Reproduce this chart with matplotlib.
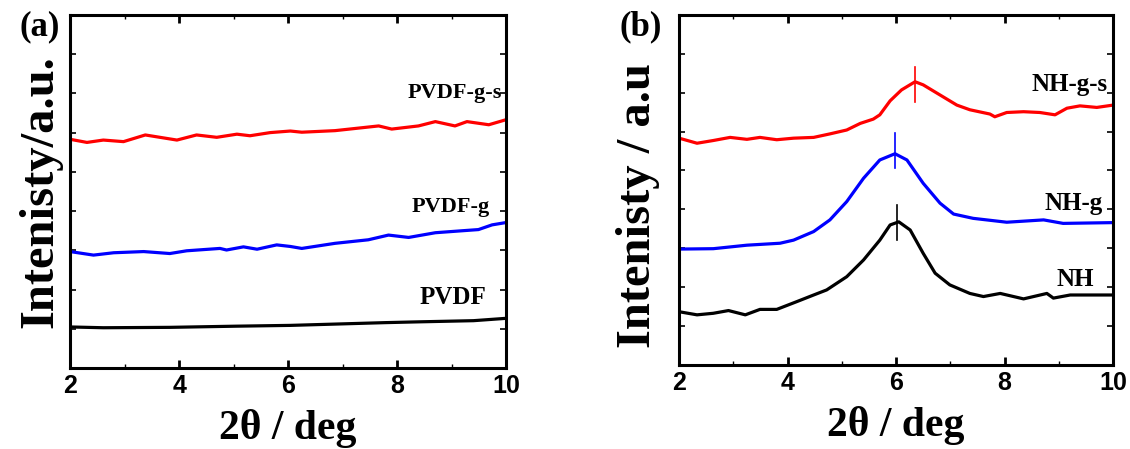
import numpy as np
import matplotlib.pyplot as plt
from matplotlib.ticker import MultipleLocator, NullFormatter

# (a) PVDF films
a_x_pvdf = [2.0, 2.61, 3.83, 5.06, 6.04, 7.78, 8.39, 9.4, 10.0]
a_y_pvdf = [1.05, 1.03, 1.04, 1.07, 1.09, 1.16, 1.18, 1.21, 1.27]
a_x_g = [2.0, 2.43, 2.80, 3.35, 3.83, 4.14, 4.75, 4.87, 5.18, 5.43, 5.79, 6.04, 6.25,
         6.86, 7.47, 7.84, 8.21, 8.70, 9.19, 9.49, 9.74, 10.0]
a_y_g = [2.97, 2.88, 2.94, 2.97, 2.92, 2.99, 3.05, 3.01, 3.09, 3.03, 3.14, 3.10, 3.05,
         3.18, 3.27, 3.39, 3.33, 3.45, 3.50, 3.53, 3.65, 3.71]
a_x_gs = [2.0, 2.31, 2.61, 2.98, 3.38, 3.96, 4.32, 4.69, 5.06, 5.30, 5.67, 6.04, 6.25,
          6.86, 7.66, 7.90, 8.39, 8.70, 9.06, 9.28, 9.68, 10.0]
a_y_gs = [5.83, 5.75, 5.81, 5.77, 5.94, 5.81, 5.94, 5.88, 5.96, 5.92, 6.00, 6.04, 6.01,
          6.05, 6.17, 6.09, 6.17, 6.28, 6.17, 6.28, 6.20, 6.33]

# (b) NH powders
b_x_nh = [2.0, 2.33, 2.63, 2.91, 3.22, 3.49, 3.80, 4.17, 4.48, 4.72, 5.09, 5.40, 5.70,
          5.89, 6.05, 6.26, 6.50, 6.72, 6.99, 7.36, 7.61, 7.92, 8.35, 8.78, 8.90, 9.21, 10.0]
b_y_nh = [1.37, 1.29, 1.33, 1.40, 1.29, 1.43, 1.43, 1.63, 1.80, 1.93, 2.27, 2.70, 3.21,
          3.60, 3.68, 3.47, 2.87, 2.36, 2.06, 1.84, 1.76, 1.84, 1.70, 1.84, 1.72, 1.80, 1.80]
b_x_g = [2.0, 2.63, 3.25, 3.86, 4.11, 4.48, 4.78, 5.09, 5.40, 5.70, 5.98, 6.20, 6.50,
         6.81, 7.06, 7.42, 8.04, 8.72, 9.08, 10.0]
b_y_g = [2.98, 2.99, 3.08, 3.13, 3.21, 3.43, 3.73, 4.20, 4.80, 5.27, 5.43, 5.27, 4.67,
         4.16, 3.88, 3.77, 3.67, 3.73, 3.64, 3.66]
b_x_gs = [2.0, 2.33, 2.63, 2.94, 3.25, 3.49, 3.80, 4.11, 4.48, 4.78, 5.09, 5.34, 5.58,
          5.70, 5.89, 6.10, 6.35, 6.50, 6.81, 7.12, 7.36, 7.73, 7.82, 8.04, 8.35, 8.65,
          8.93, 9.15, 9.39, 9.70, 10.0]
b_y_gs = [5.83, 5.70, 5.77, 5.85, 5.80, 5.85, 5.79, 5.83, 5.85, 5.94, 6.04, 6.21, 6.32,
          6.43, 6.79, 7.07, 7.28, 7.20, 6.94, 6.68, 6.56, 6.45, 6.38, 6.49, 6.51, 6.49,
          6.43, 6.60, 6.66, 6.62, 6.68]

# peak markers: position, bottom, top, colour
b_peaks = [(6.02, 3.21, 4.11, 'black'), (5.98, 5.06, 5.96, 'blue'), (6.35, 6.77, 7.67, 'red')]

serif = 'Liberation Serif'
sans = 'Liberation Sans'

fig = plt.figure(figsize=(11.3, 4.49), dpi=100)
ax1 = fig.add_axes([0.062, 0.180, 0.386, 0.787])
ax2 = fig.add_axes([0.601, 0.187, 0.384, 0.780])


def style(ax, ylabel):
    ax.set_xlim(2, 10)
    ax.set_ylim(0, 9)
    ax.xaxis.set_major_locator(MultipleLocator(2))
    ax.xaxis.set_minor_locator(MultipleLocator(1))
    ax.yaxis.set_major_locator(MultipleLocator(1))
    ax.yaxis.set_major_formatter(NullFormatter())
    ax.tick_params(axis='x', which='major', direction='in', length=6, width=2,
                   top=True, pad=4)
    ax.tick_params(axis='x', which='minor', direction='in', length=3, width=1, top=True)
    ax.tick_params(axis='y', which='major', direction='in', length=4, width=1.2,
                   left=True, right=True)
    for lab in ax.get_xticklabels():
        lab.set_fontfamily(sans)
        lab.set_fontweight('bold')
        lab.set_fontsize(18)
    for sp in ax.spines.values():
        sp.set_linewidth(2.2)
    ax.set_xlabel('2θ / deg', fontfamily=serif, fontweight='bold', fontsize=30, labelpad=8)
    ax.set_ylabel(ylabel, fontfamily=serif, fontweight='bold', fontsize=35, labelpad=2)


lw = 2.3
ax1.plot(a_x_pvdf, a_y_pvdf, color='black', lw=lw)
ax1.plot(a_x_g, a_y_g, color='blue', lw=lw)
ax1.plot(a_x_gs, a_y_gs, color='red', lw=lw)
style(ax1, 'Intenisty/a.u.')
lab_kw = dict(fontfamily=serif, fontweight='bold', fontsize=16, ha='center', va='center')
ax1.text(9.05, 7.02, 'PVDF-g-s', **lab_kw)
ax1.text(8.99, 4.1, 'PVDF-g', **lab_kw)
ax1.text(9.03, 1.79, 'PVDF', fontsize=18, **{k: v for k, v in lab_kw.items() if k != 'fontsize'})

ax2.plot(b_x_nh, b_y_nh, color='black', lw=lw)
ax2.plot(b_x_g, b_y_g, color='blue', lw=lw)
ax2.plot(b_x_gs, b_y_gs, color='red', lw=lw)
for px, y0, y1, c in b_peaks:
    ax2.plot([px, px], [y0, y1], color=c, lw=1.2)
style(ax2, 'Intenisty / a.u')
ax2.yaxis.set_label_coords(-0.045, 0.455)
lab_b = dict(lab_kw, fontsize=18)
ax2.text(9.19, 7.2, 'NH-g-s', **lab_b)
ax2.text(9.28, 4.16, 'NH-g', **lab_b)
ax2.text(9.3, 2.19, 'NH', **lab_b)

fig.text(0.035, 0.94, '(a)', fontfamily=serif, fontweight='bold', fontsize=25, ha='center', va='center')
fig.text(0.567, 0.94, '(b)', fontfamily=serif, fontweight='bold', fontsize=25, ha='center', va='center')

fig.savefig('out.png', dpi=100)
